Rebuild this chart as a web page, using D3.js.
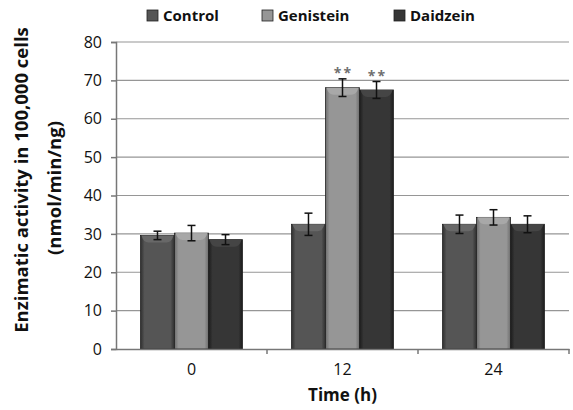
<!DOCTYPE html>
<html>
<head>
<meta charset="utf-8">
<script src="https://cdn.jsdelivr.net/npm/d3@7"></script>
<style>
  body { margin: 0; background: #fff; }
  svg text { font-family: "Open Sans", "DejaVu Sans", sans-serif; fill: #111; }
</style>
</head>
<body>
<svg id="chart" width="573" height="410"></svg>
<script>
// chart data
var times = ['0', '12', '24'];
var series = ['Control', 'Genistein', 'Daidzein'];
var control = [29.6, 32.5, 32.5];
var genistein = [30.2, 68.1, 34.3];
var daidzein = [28.5, 67.5, 32.5];
var controlErr = [1.1, 2.9, 2.4];
var genisteinErr = [2.0, 2.3, 2.0];
var daidzeinErr = [1.3, 2.2, 2.2];
var marks = [['', '', ''], ['', '**', '**'], ['', '', '']];
var yTicks = [0, 10, 20, 30, 40, 50, 60, 70, 80];

var values = [control, genistein, daidzein];
var errs = [controlErr, genisteinErr, daidzeinErr];
var colors = { Control: ['#2f2f2f', '#555555', '#6a6a6a'], Genistein: ['#6e6e6e', '#969696', '#aaaaaa'], Daidzein: ['#1c1c1c', '#363636', '#474747'] };

var svg = d3.select('#chart');
var pl = 116, pr = 569, pt = 42, pb = 349;

var x0 = d3.scaleBand().domain(times).range([pl, pr]).padding(0);
var x1 = d3.scaleBand().domain(series).range([0, x0.bandwidth()]).paddingInner(0).paddingOuter(0.72);
var y = d3.scaleLinear().domain([0, 80]).range([pb, pt]);

// gradients for the bevelled bars
var defs = svg.append('defs');
series.forEach(function(s) {
    var g = defs.append('linearGradient').attr('id', 'g-' + s).attr('x1', 0).attr('x2', 1).attr('y1', 0).attr('y2', 0);
    g.append('stop').attr('offset', '0%').attr('stop-color', colors[s][0]);
    g.append('stop').attr('offset', '12%').attr('stop-color', colors[s][1]);
    g.append('stop').attr('offset', '88%').attr('stop-color', colors[s][1]);
    g.append('stop').attr('offset', '100%').attr('stop-color', colors[s][0]);
});

// gridlines
svg.append('g').selectAll('line').data(yTicks.slice(1)).enter().append('line')
    .attr('x1', pl).attr('x2', pr)
    .attr('y1', function(d) { return y(d); }).attr('y2', function(d) { return y(d); })
    .attr('stroke', '#969696').attr('stroke-width', 1.2);

// bars
var rows = [];
times.forEach(function(t, i) {
    series.forEach(function(s, j) {
        rows.push({ t: t, s: s, v: values[j][i], e: errs[j][i], m: marks[i][j] });
    });
});

var bar = svg.append('g').selectAll('g').data(rows).enter().append('g')
    .attr('transform', function(d) { return 'translate(' + (x0(d.t) + x1(d.s)) + ',0)'; });

var bw = x1.bandwidth();
bar.append('rect')
    .attr('x', 0).attr('width', bw)
    .attr('y', function(d) { return y(d.v); })
    .attr('height', function(d) { return pb - y(d.v); })
    .attr('fill', function(d) { return 'url(#g-' + d.s + ')'; })
    .attr('stroke', '#222').attr('stroke-width', 0.8);

// lighter cap at the top of each bar
bar.append('path')
    .attr('d', function(d) {
        var t = y(d.v);
        return 'M1,' + t + ' L' + (bw - 1) + ',' + t + ' Q' + (bw - 3) + ',' + (t + 7) + ' ' + (bw - 8) + ',' + (t + 7) +
            ' L8,' + (t + 7) + ' Q3,' + (t + 7) + ' 1,' + t + ' Z';
    })
    .attr('fill', function(d) { return colors[d.s][2]; })
    .attr('opacity', 0.9);

// error bars
var cx = bw / 2;
bar.append('line')
    .attr('x1', cx).attr('x2', cx)
    .attr('y1', function(d) { return y(d.v + d.e); })
    .attr('y2', function(d) { return y(d.v - d.e); })
    .attr('stroke', '#111').attr('stroke-width', 1.5);
bar.selectAll('.cap').data(function(d) { return [d.v + d.e, d.v - d.e]; }).enter().append('line')
    .attr('x1', cx - 4).attr('x2', cx + 4)
    .attr('y1', function(v) { return y(v); }).attr('y2', function(v) { return y(v); })
    .attr('stroke', '#111').attr('stroke-width', 1.5);

// significance marks
bar.append('text')
    .attr('x', cx + 1)
    .attr('y', function(d) { return y(d.v + d.e) - 1; })
    .attr('text-anchor', 'middle')
    .style('font-size', '14px').style('font-weight', 'bold').style('fill', '#707070').style('letter-spacing', '2px')
    .text(function(d) { return d.m; });

// axes
var yAxis = svg.append('g').attr('transform', 'translate(' + pl + ',0)')
    .call(d3.axisLeft(y).tickValues(yTicks).tickSize(5).tickPadding(9));
var xAxis = svg.append('g').attr('transform', 'translate(0,' + pb + ')')
    .call(d3.axisBottom(x0).tickSize(0).tickPadding(15));
[yAxis, xAxis].forEach(function(a) {
    a.select('.domain').attr('stroke', '#777').attr('stroke-width', 1.5);
    a.selectAll('.tick line').attr('stroke', '#777').attr('stroke-width', 1.5);
    a.selectAll('text').style('font-size', '16px').style('fill', '#111');
});
// boundary ticks between categories
svg.append('g').selectAll('line').data(times).enter().append('line')
    .attr('x1', function(d) { return x0(d) + x0.bandwidth(); })
    .attr('x2', function(d) { return x0(d) + x0.bandwidth(); })
    .attr('y1', pb).attr('y2', pb + 5)
    .attr('stroke', '#777').attr('stroke-width', 1.5);

// axis titles
svg.append('text').attr('x', (pl + pr) / 2).attr('y', 401).attr('text-anchor', 'middle')
    .style('font-size', '17px').style('font-weight', 'bold').text('Time (h)');
svg.append('text').attr('transform', 'translate(28,180) rotate(-90)').attr('text-anchor', 'middle')
    .style('font-size', '18.5px').style('font-weight', 'bold').text('Enzimatic activity  in 100,000 cells');
svg.append('text').attr('transform', 'translate(61,188) rotate(-90)').attr('text-anchor', 'middle')
    .style('font-size', '18.5px').style('font-weight', 'bold').text('(nmol/min/ng)');

// legend
var legX = [147, 262, 394];
var leg = svg.append('g').selectAll('g').data(series).enter().append('g')
    .attr('transform', function(d, i) { return 'translate(' + legX[i] + ',10)'; });
leg.append('rect').attr('width', 11).attr('height', 11)
    .attr('fill', function(d) { return colors[d][1]; }).attr('stroke', '#222').attr('stroke-width', 0.8);
leg.append('text').attr('x', 16).attr('y', 11)
    .style('font-size', '15px').style('font-weight', 'bold')
    .text(function(d) { return d; });
</script>
</body>
</html>
